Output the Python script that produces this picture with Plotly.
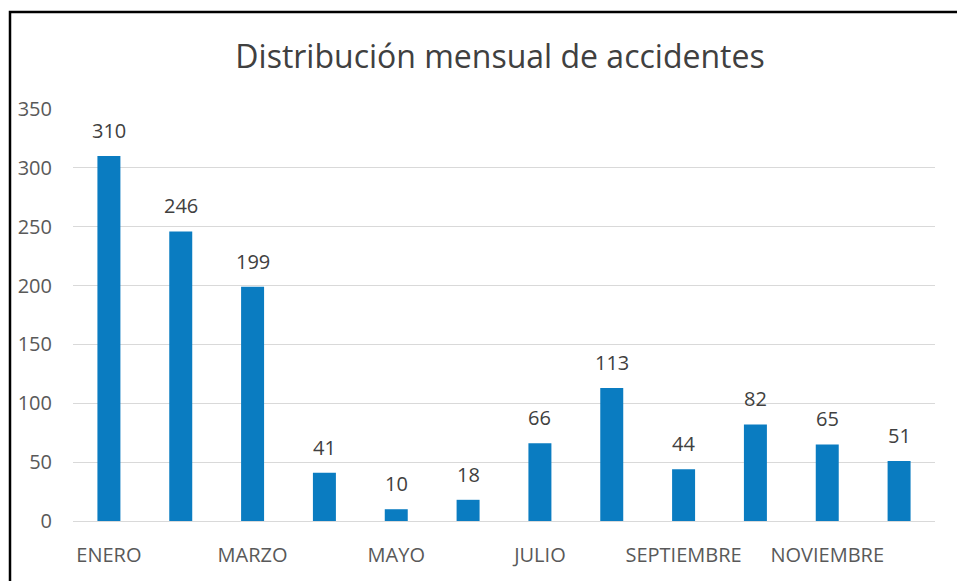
import plotly.graph_objects as go

# Datos
meses = ["ENERO", "FEBRERO", "MARZO", "ABRIL", "MAYO", "JUNIO",
         "JULIO", "AGOSTO", "SEPTIEMBRE", "OCTUBRE", "NOVIEMBRE", "DICIEMBRE"]
accidentes = [310, 246, 199, 41, 10, 18, 66, 113, 44, 82, 65, 51]
meses_visibles = meses[::2]
y_ticks = [0, 50, 100, 150, 200, 250, 300, 350]

W, H = 957, 581
L, R, T, B = 73, 22, 109, 60
pw, ph = W - L - R, H - T - B
FONT = "Open Sans, sans-serif"


def px_x(p):
    return (p - L) / pw


def px_y(p):
    return (H - B - p) / ph


fig = go.Figure(go.Bar(
    x=meses,
    y=accidentes,
    marker=dict(color="#0A7CC1", line=dict(width=0)),
    width=0.32,
))

# Etiquetas de datos sobre las barras
for m, v in zip(meses, accidentes):
    fig.add_annotation(x=m, y=v, text=str(v), showarrow=False,
                       yanchor="bottom", yshift=10,
                       font=dict(size=20, color="#404040", family=FONT))

# Marco del gráfico
fig.add_shape(type="rect", xref="paper", yref="paper",
              x0=px_x(10), x1=px_x(975), y0=px_y(600), y1=px_y(12),
              line=dict(color="black", width=2.5), fillcolor="rgba(0,0,0,0)")

fig.update_layout(
    width=W, height=H,
    margin=dict(l=L, r=R, t=T, b=B),
    paper_bgcolor="white", plot_bgcolor="white",
    font=dict(family=FONT, color="#595959"),
    title=dict(text="Distribución mensual de accidentes",
               x=(500 / W), xanchor="center", y=1 - 57 / H, yanchor="middle",
               font=dict(size=32, color="#404040")),
    showlegend=False,
)
fig.update_xaxes(
    type="category",
    tickvals=meses_visibles, ticktext=meses_visibles,
    tickfont=dict(size=20, color="#595959"),
    showgrid=False, showline=False, ticks="", ticklabelstandoff=20,
)
fig.update_yaxes(
    range=[0, 350], tickvals=y_ticks,
    tickfont=dict(size=20, color="#595959"),
    showgrid=True, gridcolor="#D9D9D9", gridwidth=1,
    zeroline=True, zerolinecolor="#D9D9D9", zerolinewidth=1,
    showline=False, ticks="", ticklabelstandoff=20,
)

fig.write_html("out.html", config={"displayModeBar": False},
               post_script="document.body.style.margin='0';")
